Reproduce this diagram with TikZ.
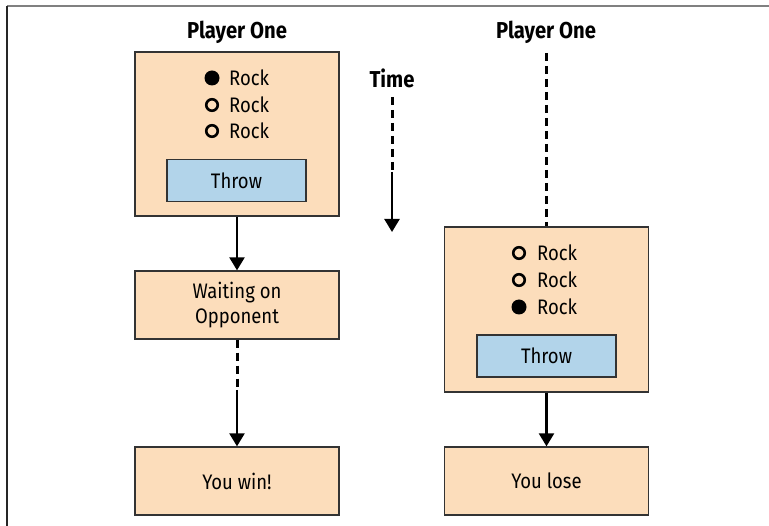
\documentclass[tikz,border=0pt]{standalone}
\usepackage{fontspec}
\setmainfont[FakeStretch=0.88]{Fira Sans}
\usetikzlibrary{arrows.meta}
\definecolor{peach}{HTML}{FCDDBB}
\definecolor{throwblue}{HTML}{B2D4EA}

\begin{document}
\begin{tikzpicture}[x=1pt,y=-1pt]
		\tikzstyle{box}=[draw=black!80,line width=1.3pt,fill=peach,rectangle,text centered,align=center,inner sep=0pt,minimum width=204pt,font=\fontsize{21}{24.5}\selectfont]
		\tikzstyle{throwbox}=[draw=black!80,line width=1.3pt,fill=throwblue,rectangle,inner sep=0pt,minimum width=139pt,minimum height=42pt,font=\fontsize{21}{24}\selectfont]
		\tikzstyle{title}=[font=\fontsize{23}{26}\selectfont\bfseries]
		\tikzstyle{item}=[anchor=west,inner sep=0pt,font=\fontsize{21}{24}\selectfont]
		\tikzstyle{dotfull}=[circle,fill=black,inner sep=0pt,minimum size=15pt]
		\tikzstyle{dotempty}=[circle,draw=black,line width=2.6pt,inner sep=0pt,minimum size=11.5pt]
		\tikzstyle{arr}=[-{Triangle[width=15pt,length=13pt]},line width=2.4pt]
		\tikzstyle{dashline}=[line width=3pt,dash pattern=on 8pt off 5pt]

		\useasboundingbox (0,0) rectangle (769,526);
		\draw[black!50,line width=1.8pt] (7,6)-- (769,6);
		\draw[black!85,line width=1.8pt] (7,6)-- (7,526);

		% player one, left
		\node[title] (lefttitle) at (237,32) {Player One};
		\node[box,minimum height=164pt] (left) at (237,134) {};
		\node[dotfull] (ld1) at (212,78) {};
		\node[dotempty] (ld2) at (212,105) {};
		\node[dotempty] (ld3) at (212,131) {};
		\node[item] (lr1) at (229,78) {Rock};
		\node[item] (lr2) at (229,105) {Rock};
		\node[item] (lr3) at (229,131) {Rock};
		\node[throwbox] (lthrow) at (236.5,180.5) {Throw};

		\node[box,minimum height=68pt] (wait) at (237,305) {Waiting on\\Opponent};
		\node[box,minimum height=68pt] (win) at (237,481) {You win!};

		\draw[arr] (left.south)-- (wait.north);
		\coordinate (waitbreak) at (237,390);
		\draw[dashline] (wait.south)-- (waitbreak);
		\draw[arr] (waitbreak)-- (win.north);

		% time
		\node[title] (time) at (392,78) {Time};
		\coordinate (timetop) at (392,97);
		\coordinate (timebreak) at (392,172);
		\coordinate (timeend) at (392,232);
		\draw[dashline] (timetop)-- (timebreak);
		\draw[arr] (timebreak)-- (timeend);

		% player one, right
		\node[title] (righttitle) at (546,32) {Player One};
		\coordinate (righttop) at (546.5,53);
		\node[box,minimum height=165pt] (right) at (546.5,309.5) {};
		\node[dotempty] (rd1) at (519,253) {};
		\node[dotempty] (rd2) at (519,280) {};
		\node[dotfull] (rd3) at (519,307) {};
		\node[item] (rr1) at (537,253) {Rock};
		\node[item] (rr2) at (537,280) {Rock};
		\node[item] (rr3) at (537,307) {Rock};
		\node[throwbox] (rthrow) at (546.5,356) {Throw};

		\node[box,minimum height=68pt] (lose) at (546.5,481) {You lose};

		\draw[dashline] (righttop)-- (right.north);
		\draw[arr] (right.south)-- (lose.north);

\end{tikzpicture}
\end{document}
